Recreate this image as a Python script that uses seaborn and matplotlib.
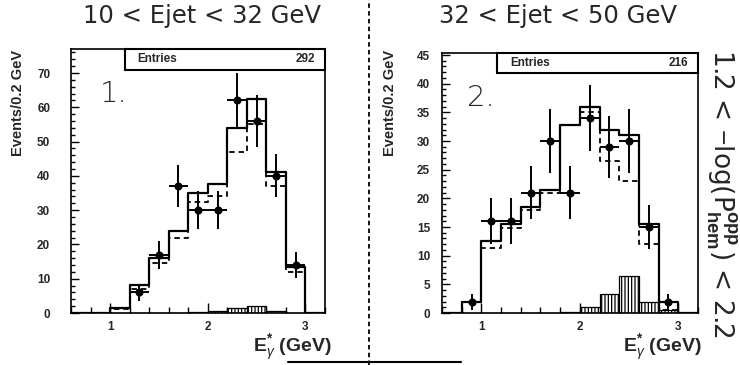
import numpy as np
import pandas as pd
import matplotlib
matplotlib.use("Agg")
import matplotlib.pyplot as plt
import seaborn as sns
from matplotlib.patches import Rectangle
from matplotlib.lines import Line2D
from matplotlib.ticker import MultipleLocator

# ---------------- data ----------------
bin_edges = [0.6, 0.8, 1.0, 1.2, 1.4, 1.6, 1.8, 2.0, 2.2, 2.4, 2.6, 2.8, 3.0, 3.2]
bin_centers = [0.7, 0.9, 1.1, 1.3, 1.5, 1.7, 1.9, 2.1, 2.3, 2.5, 2.7, 2.9, 3.1]

titles = ["10 < Ejet < 32 GeV", "32 < Ejet < 50 GeV"]
panel_tags = ["1.", "2."]
entries = [292, 216]

# panel 1
p1_total = [0, 0, 1.6, 8.3, 16, 24, 35, 37.5, 54, 62.5, 41, 13.5, 0]
p1_signal = [0, 0, 1.3, 7, 14.5, 22, 32.5, 34, 47, 55, 37, 12, 0]
p1_backgr = [0, 0, 0, 0, 0, 0, 0.2, 0.5, 1.5, 2, 0.5, 0, 0]
p1_data_x = [1.3, 1.5, 1.7, 1.9, 2.1, 2.3, 2.5, 2.7, 2.9]
p1_data_y = [6, 17, 37, 30, 30, 62, 56, 40, 14]
p1_data_err = [2.4, 4.1, 6.1, 5.5, 5.5, 7.9, 7.5, 6.3, 3.7]

# panel 2
p2_total = [0, 2, 12.5, 15.5, 18.5, 21.5, 32.8, 36, 32, 31, 15.5, 2, 0]
p2_signal = [0, 2, 11.3, 14.8, 18, 21, 32.8, 35, 26.5, 23, 12, 0.5, 0]
p2_backgr = [0, 0, 0, 0, 0, 0, 0.1, 1, 3.3, 6.5, 2, 0.5, 0]
p2_data_x = [0.9, 1.1, 1.3, 1.5, 1.7, 1.9, 2.1, 2.3, 2.5, 2.7, 2.9]
p2_data_y = [2, 16, 16, 21, 30, 21, 34, 29, 30, 15, 2]
p2_data_err = [1.4, 4.0, 4.0, 4.6, 5.5, 4.6, 5.8, 5.4, 5.5, 3.9, 1.4]

panels = [
    dict(total=p1_total, signal=p1_signal, backgr=p1_backgr,
         dx=p1_data_x, dy=p1_data_y, de=p1_data_err),
    dict(total=p2_total, signal=p2_signal, backgr=p2_backgr,
         dx=p2_data_x, dy=p2_data_y, de=p2_data_err),
]

# ---------------- style ----------------
sns.set_style("ticks")
plt.rcParams["font.family"] = ["Liberation Sans", "DejaVu Sans"]
plt.rcParams["hatch.linewidth"] = 0.9
plt.rcParams["mathtext.fontset"] = "custom"
plt.rcParams["mathtext.rm"] = "Liberation Sans"
plt.rcParams["mathtext.bf"] = "Liberation Sans:bold"
plt.rcParams["mathtext.it"] = "Liberation Sans:italic"

W, H = 740, 365
fig = plt.figure(figsize=(W / 100, H / 100), dpi=100)

# axes rectangles in pixels: (left, top, right, bottom)
ax_px = [(71, 49, 325, 313), (442, 53, 698, 313)]
ylims = [77.0, 45.35]
ymajor = [10, 5]
yminor = [2, 1]
ytick_pad = [15, 8.5]
ylabel_x = [18, 390]
xlabel_right = [332, 702]
tag_pos = [(100, 94), (467, 98)]
box_left_px = [125, 497]
box_bottom_px = [70, 73]

for i, p in enumerate(panels):
    l, t, r, b = ax_px[i]
    ax = fig.add_axes([l / W, 1 - b / H, (r - l) / W, (b - t) / H])

    df_tot = pd.DataFrame({"E": bin_centers, "n": p["total"]})
    df_sig = pd.DataFrame({"E": bin_centers, "n": p["signal"]})
    df_bkg = pd.DataFrame({"E": bin_centers, "n": p["backgr"]})

    sns.histplot(data=df_bkg, x="E", weights="n", bins=bin_edges, element="bars",
                 fill=True, facecolor="white", edgecolor="black", linewidth=0.9,
                 hatch="|||||", ax=ax)
    sns.histplot(data=df_sig, x="E", weights="n", bins=bin_edges, element="step",
                 fill=False, color="black", linewidth=1.3, linestyle=(0, (3.0, 2.2)), ax=ax)
    sns.histplot(data=df_tot, x="E", weights="n", bins=bin_edges, element="step",
                 fill=False, color="black", linewidth=1.6, ax=ax)

    ax.errorbar(p["dx"], p["dy"], xerr=0.1, yerr=p["de"], fmt="o", color="black",
                ms=4.8, elinewidth=1.4, capsize=0, zorder=5)

    ax.set_xlim(0.6, 3.2)
    ax.set_ylim(0, ylims[i])
    ax.set_xlabel("")
    ax.set_ylabel("")
    for s in ["top", "right", "left", "bottom"]:
        ax.spines[s].set_visible(True)
        ax.spines[s].set_linewidth(1.2)
        ax.spines[s].set_color("black")

    ax.xaxis.set_major_locator(MultipleLocator(1))
    ax.xaxis.set_minor_locator(MultipleLocator(0.2))
    ax.yaxis.set_major_locator(MultipleLocator(ymajor[i]))
    ax.yaxis.set_minor_locator(MultipleLocator(yminor[i]))
    ax.tick_params(axis="both", which="both", direction="in", top=False, right=False,
                   color="black", width=1.0)
    ax.tick_params(axis="y", which="major", length=6, pad=ytick_pad[i])
    ax.tick_params(axis="y", which="minor", length=3)
    ax.tick_params(axis="x", which="major", length=7, pad=6)
    ax.tick_params(axis="x", which="minor", length=4)
    for lab in ax.get_xticklabels() + ax.get_yticklabels():
        lab.set_fontweight("bold")
        lab.set_fontsize(8.5)

    # Entries box
    y0 = (b - box_bottom_px[i]) / (b - t)
    x0 = (box_left_px[i] - l) / (r - l)
    ax.add_patch(Rectangle((x0, y0), 1 - x0, 1 - y0, transform=ax.transAxes,
                           fill=True, facecolor="white", edgecolor="black",
                           linewidth=1.5, clip_on=False, zorder=6))
    ax.text(x0 + 0.05, (1 + y0) / 2, "Entries", transform=ax.transAxes,
            ha="left", va="center", fontsize=8.5, fontweight="bold", zorder=7)
    ax.text(0.96, (1 + y0) / 2, str(entries[i]), transform=ax.transAxes,
            ha="right", va="center", fontsize=8.5, fontweight="bold", zorder=7)

    # panel tag
    fig.text(tag_pos[i][0] / W, 1 - tag_pos[i][1] / H, panel_tags[i],
             ha="left", va="center", fontsize=21, family="DejaVu Sans",
             fontweight="light")

    # y label
    fig.text(ylabel_x[i] / W, 1 - 50 / H, "Events/0.2 GeV", rotation=90,
             ha="center", va="top", fontsize=10.5, fontweight="bold")
    # x label
    fig.text(xlabel_right[i] / W, 1 - 348 / H,
             r"$\mathbf{E}_{\gamma}^{\mathbf{*}}$ (GeV)",
             ha="right", va="center", fontsize=14, fontweight="bold")

# titles
fig.text(202 / W, 1 - 16 / H, titles[0], ha="center", va="center",
         fontsize=17.5, family="DejaVu Sans")
fig.text(558 / W, 1 - 16 / H, titles[1], ha="center", va="center",
         fontsize=17.5, family="DejaVu Sans")

# right vertical label
fig.text(721 / W, 1 - 193 / H,
         r"1.2 < $-$log(P$_{\mathbf{hem}}^{\mathbf{opp}}$) < 2.2",
         rotation=-90, ha="center", va="center", fontsize=19, family="DejaVu Sans")

# dashed divider and bottom line
fig.add_artist(Line2D([369 / W, 369 / W], [0, 1], transform=fig.transFigure,
                      color="black", linewidth=1.3, linestyle=(0, (2.5, 1.8))))
fig.add_artist(Line2D([288 / W, 461 / W], [1 - 362 / H, 1 - 362 / H],
                      transform=fig.transFigure, color="black", linewidth=1.5))

fig.savefig("out.png", dpi=100)
